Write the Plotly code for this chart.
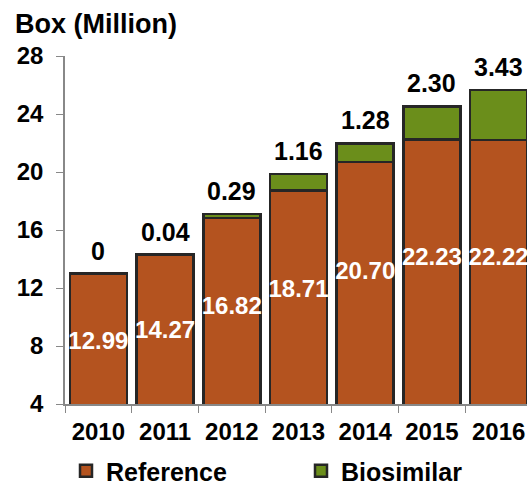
import plotly.graph_objects as go

years = ["2010", "2011", "2012", "2013", "2014", "2015", "2016"]
reference = [12.99, 14.27, 16.82, 18.71, 20.70, 22.23, 22.22]
biosimilar = [0, 0.04, 0.29, 1.16, 1.28, 2.30, 3.43]
ref_labels = ["12.99", "14.27", "16.82", "18.71", "20.70", "22.23", "22.22"]
bio_labels = ["0", "0.04", "0.29", "1.16", "1.28", "2.30", "3.43"]
y_ticks = [4, 8, 12, 16, 20, 24, 28]

FONT = "Liberation Sans, Arial, sans-serif"
ORANGE = "#B4531F"
GREEN = "#6B8E1B"
EDGE = "#262626"

totals = [r + b for r, b in zip(reference, biosimilar)]
ref_label_y = [r * 0.63 for r in reference]

fig = go.Figure()
fig.add_trace(go.Bar(
    x=years, y=reference, name="Reference", legend="legend",
    marker=dict(color=ORANGE, line=dict(color=EDGE, width=2.5)),
))
fig.add_trace(go.Bar(
    x=years, y=biosimilar, name="Biosimilar", legend="legend2",
    marker=dict(color=GREEN, line=dict(color=EDGE, width=2.5)),
))
fig.add_trace(go.Scatter(
    x=years, y=ref_label_y, mode="text", text=ref_labels,
    textposition="middle center", showlegend=False, hoverinfo="skip",
    textfont=dict(family=FONT, size=24, color="white", weight="bold"),
))

annotations = [
    dict(x=i, y=tot, text=lab, xref="x", yref="y", showarrow=False,
         yanchor="middle", yshift=23,
         font=dict(family=FONT, size=25, color="black", weight="bold"))
    for i, (tot, lab) in enumerate(zip(totals, bio_labels))
]

legend_style = dict(
    orientation="h", xref="container", yref="container",
    xanchor="left", y=1 - 448/484, yanchor="top",
    font=dict(family=FONT, size=25, color="black", weight="bold"),
    itemwidth=30, bgcolor="rgba(0,0,0,0)",
)

fig.update_layout(
    width=527, height=484,
    barmode="stack", bargap=0.145,
    plot_bgcolor="white", paper_bgcolor="white",
    margin=dict(l=65, r=0, t=56, b=80, autoexpand=False),
    font=dict(family=FONT, color="black"),
    annotations=annotations,
    title=dict(
        text="Box (Million)", x=15/527, xref="container", xanchor="left",
        y=1 - 24/484, yref="container", yanchor="middle",
        font=dict(family=FONT, size=27, color="black", weight="bold"),
    ),
    showlegend=True,
    legend=dict(legend_style, x=66/527),
    legend2=dict(legend_style, x=301/527),
    xaxis=dict(
        type="category", range=[-0.5, 6.425], automargin=False,
        showline=True, linecolor="#888888", linewidth=1.5,
        ticks="outside", tickson="boundaries", ticklen=7, tickcolor="#888888",
        tickfont=dict(family=FONT, size=24, color="black", weight="bold"),
        ticklabelstandoff=5,
        showgrid=False, zeroline=False,
    ),
    yaxis=dict(
        range=[4, 28], tickvals=y_ticks, automargin=False,
        showline=True, linecolor="#888888", linewidth=1.5,
        ticks="outside", ticklen=7, tickcolor="#888888",
        tickfont=dict(family=FONT, size=24, color="black", weight="bold"),
        ticklabelstandoff=8,
        showgrid=False, zeroline=False,
    ),
)

fig.write_html(
    "out.html",
    config={"displayModeBar": False},
    post_script="document.body.style.margin='0';document.body.style.overflow='hidden';",
)
